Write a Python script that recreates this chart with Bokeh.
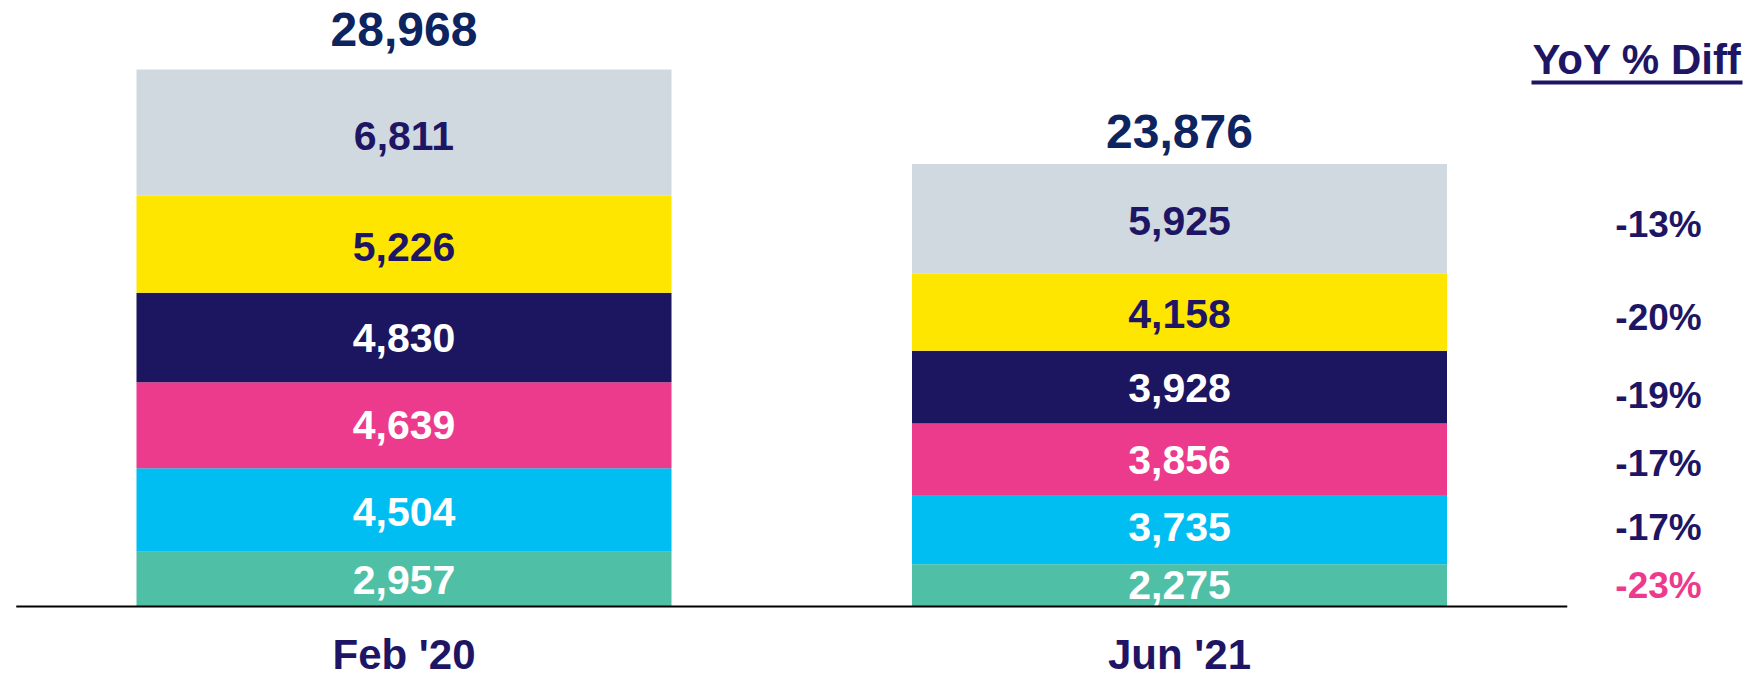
import numpy as np
from bokeh.plotting import figure
from bokeh.models import ColumnDataSource, Range1d
from bokeh.core.properties import value
from bokeh.embed import file_html
from bokeh.resources import INLINE

# ---------------- data ----------------
periods = ["Feb '20", "Jun '21"]
series = ["Segment 1", "Segment 2", "Segment 3", "Segment 4", "Segment 5", "Segment 6"]  # bottom -> top
feb_20 = [2957, 4504, 4639, 4830, 5226, 6811]
jun_21 = [2275, 3735, 3856, 3928, 4158, 5925]
totals = [28968, 23876]
yoy_diff = ["-23%", "-17%", "-17%", "-19%", "-20%", "-13%"]  # bottom -> top
yoy_title = "YoY % Diff"

# ---------------- styles ----------------
seg_colors = ["#4FBFA5", "#00BEF2", "#EC3B8D", "#1C1560", "#FFE600", "#D0D9E0"]
seg_text_colors = ["white", "white", "white", "white", "#1E1664", "#1E1664"]
yoy_colors = ["#EC3B8D", "#1E1664", "#1E1664", "#1E1664", "#1E1664", "#1E1664"]
label_nudges = [[1, 2, 0, 1, 3, 3], [0, -3, 1, 1, 2, 2]]   # px, per bar, bottom -> top
yoy_nudges = [0, -2, 4, 8, 5, 6]                             # px, bottom -> top
NAVY = "#1E1664"
TOTAL_NAVY = "#0E2460"
FONT = value("Liberation Sans")

W, H = 1759, 677
base_px = 606          # baseline, px from top of canvas
max_bar_px = 537       # pixel height of tallest bar
unit_px = 775.5        # px between bar centres
x0_px = 403.5          # px position of first bar centre

k = max_bar_px / max(totals)
y_end = base_px / k
y_start = -(H - base_px) / k
x_start = -x0_px / unit_px
x_end = (W - x0_px) / unit_px

def px_x(px):
    return (px - x0_px) / unit_px

def px_y(py):
    return (base_px - py) / k

p = figure(width=W, height=H, output_backend="svg", toolbar_location=None,
           x_range=Range1d(x_start, x_end), y_range=Range1d(y_start, y_end),
           min_border=0, min_border_left=0, min_border_right=0,
           min_border_top=0, min_border_bottom=0)
p.axis.visible = False
p.grid.visible = False
p.outline_line_color = None
p.background_fill_color = "white"
p.border_fill_color = "white"

xs, bottoms, tops, cols, labels, tcols, nudges = [], [], [], [], [], [], []
stacks = [feb_20, jun_21]
for i, vals in enumerate(stacks):
    cum = np.concatenate([[0], np.cumsum(vals)])
    for j, v in enumerate(vals):
        xs.append(i)
        bottoms.append(cum[j])
        tops.append(cum[j + 1])
        cols.append(seg_colors[j])
        labels.append(f"{v:,}")
        tcols.append(seg_text_colors[j])
        nudges.append(label_nudges[i][j])

src = ColumnDataSource(dict(x=xs, bottom=bottoms, top=tops, color=cols,
                            label=labels, tcolor=tcols, nudge=nudges,
                            mid=[(b + t) / 2 for b, t in zip(bottoms, tops)]))

p.vbar(x="x", bottom="bottom", top="top", width=535 / unit_px, fill_color="color",
       line_color=None, source=src)

p.text(x="x", y="mid", text="label", text_color="tcolor", source=src,
       text_font=FONT, text_font_style="bold", text_font_size="41px",
       text_align="center", text_baseline="middle", y_offset="nudge")

# baseline
p.line(x=[-0.5, 1.5], y=[0, 0], line_color="black", line_width=2)

# totals above bars
total_offsets = [-40, -32]
for i, t in enumerate(totals):
    p.text(x=[i], y=[sum(stacks[i])], text=[f"{t:,}"], text_color=TOTAL_NAVY,
           text_font=FONT, text_font_style="bold", text_font_size="48px",
           text_align="center", text_baseline="middle", y_offset=total_offsets[i])

# category labels
p.text(x=list(range(len(periods))), y=[0] * len(periods), text=periods,
       text_color=NAVY, text_font=FONT, text_font_style="bold",
       text_font_size="42px", text_align="center", text_baseline="middle",
       y_offset=48)

# YoY labels at Jun '21 segment centres
jun_cum = np.concatenate([[0], np.cumsum(jun_21)])
jun_mid = [(jun_cum[j] + jun_cum[j + 1]) / 2 for j in range(len(jun_21))]
pct_x = px_x(1658)
ysrc = ColumnDataSource(dict(x=[pct_x] * len(yoy_diff), y=jun_mid, text=yoy_diff,
                             color=yoy_colors, nudge=yoy_nudges))
p.text(x="x", y="y", text="text", text_color="color", source=ysrc,
       text_font=FONT, text_font_style="bold", text_font_size="37px",
       text_align="center", text_baseline="middle", y_offset="nudge")

# YoY header with underline
hx = px_x(1636.5)
p.text(x=[hx], y=[px_y(59)], text=[yoy_title], text_color=NAVY, text_font=FONT,
       text_font_style="bold", text_font_size="42px", text_align="center",
       text_baseline="middle")
half = 105.5 / unit_px
uy = px_y(82)
p.line(x=[hx - half, hx + half], y=[uy, uy], line_color=NAVY, line_width=4)

open("out.html", "w").write(file_html(p, INLINE))
